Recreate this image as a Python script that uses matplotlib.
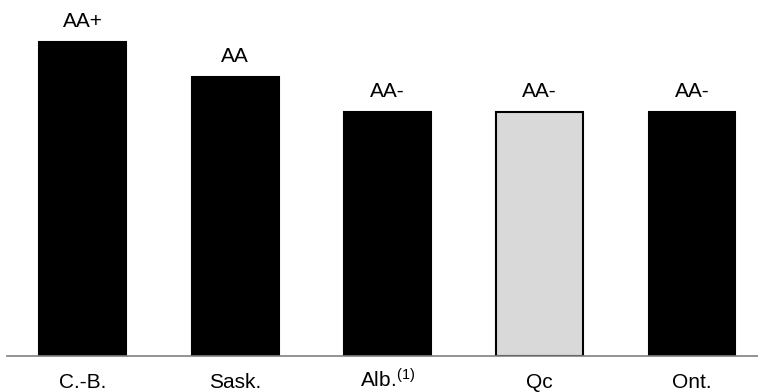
import matplotlib
matplotlib.use("Agg")
import matplotlib.pyplot as plt

plt.rcParams['font.family'] = ['Liberation Sans', 'DejaVu Sans']
plt.rcParams['mathtext.fontset'] = 'custom'
plt.rcParams['mathtext.rm'] = 'Liberation Sans'
plt.rcParams['mathtext.it'] = 'Liberation Sans'

categories = ["C.-B.", "Sask.", "Alb.$^{(1)}$", "Qc", "Ont."]
values = [9, 8, 7, 7, 7]
ratings = ["AA+", "AA", "AA-", "AA-", "AA-"]
fills = ["#000000", "#000000", "#000000", "#d9d9d9", "#000000"]

W, H = 758, 392
fig = plt.figure(figsize=(W / 100, H / 100), dpi=100)
left_px = 6.7
base_px = 355.5
unit_x = 152.3
unit_y = 34.83
ax = fig.add_axes([left_px / W, (H - base_px) / H, 1 - left_px / W, base_px / H])

x = list(range(len(categories)))
bars = ax.bar(x, values, width=0.57, color=fills, edgecolor="black", linewidth=1.5)

for xi, v, r in zip(x, values, ratings):
    ax.annotate(r, (xi, v), xytext=(0, 10.8), textcoords="offset points",
                ha="center", va="baseline", fontsize=15)

for xi, c in zip(x, categories):
    ax.annotate(c, (xi, 0), xycoords=("data", "axes fraction"),
                xytext=(0, -23.4), textcoords="offset points",
                ha="center", va="baseline", fontsize=15, annotation_clip=False)

ax.set_xlim(-0.5, -0.5 + (W - left_px) / unit_x)
ax.set_ylim(0, base_px / unit_y)
ax.set_xticks([])
ax.set_yticks([])
for s in ["left", "right", "top"]:
    ax.spines[s].set_visible(False)
ax.spines["bottom"].set_color("#808080")
ax.spines["bottom"].set_linewidth(1.2)

fig.savefig("out.png", dpi=100)
